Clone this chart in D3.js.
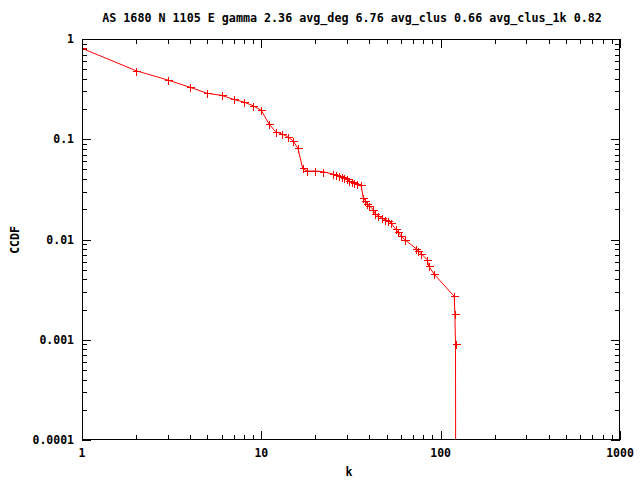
<!DOCTYPE html>
<html>
<head>
<meta charset="utf-8">
<script src="https://cdn.jsdelivr.net/npm/d3@7"></script>
<style>
  html, body { margin: 0; padding: 0; background: #fff; }
  svg text { font-family: "DejaVu Sans Mono", "Liberation Mono", monospace; font-weight: bold; font-size: 11.5px; fill: #000; }
  svg text.title { font-size: 11.7px; }
</style>
</head>
<body>
<svg id="chart" width="640" height="480"></svg>
<script>
const titleText = "AS 1680 N 1105 E gamma 2.36 avg_deg 6.76 avg_clus 0.66 avg_clus_1k 0.82";
const xLabel = "k";
const yLabel = "CCDF";

const degrees = [1,2,3,4,5,6,7,8,9,10,11,12,13,14,15,16,17,18,20,22,
  25,26,27,28,29,30,31,32,33,34,36,37,38,39,40,42,43,45,47,49,51,53,56,58,60,63,
  73,75,78,84,86,92,119,120,121,122];
const ccdf = [0.807,0.483,0.39,0.33,0.287,0.274,0.25,0.235,0.216,0.194,0.143,0.119,0.113,0.106,0.0968,0.0813,0.0513,0.0482,0.0482,0.0475,
  0.045,0.0442,0.0433,0.0421,0.041,0.04,0.0383,0.0371,0.0362,0.0354,0.0346,0.0262,0.0244,0.0226,0.0217,0.0199,0.0181,0.0172,0.0163,0.0158,0.0154,0.0145,0.0127,0.0118,0.0109,0.0100,
  0.0081,0.0077,0.0072,0.0063,0.0054,0.0045,0.00271,0.0018,0.000905,0];

const xTicks = [1,10,100,1000];
const xTickLabels = ["1","10","100","1000"];
const yTicks = [0.0001,0.001,0.01,0.1,1];
const yTickLabels = ["0.0001","0.001","0.01","0.1","1"];

const W = 640, H = 480;
const m = {left: 82, right: 20, top: 39, bottom: 40};
const svg = d3.select("#chart");

const x = d3.scaleLog().domain([1,1000]).range([m.left, W - m.right]);
const y = d3.scaleLog().domain([0.0001,1]).range([H - m.bottom, m.top]);

const x0 = m.left, x1 = W - m.right, y0 = H - m.bottom, y1 = m.top;

function minorVals(domain) {
  const out = [];
  for (let d = domain[0]; d < domain[1]; d *= 10) {
    for (let i = 2; i <= 9; i++) out.push(d * i);
  }
  return out;
}
const g = svg.append("g").attr("stroke", "#000").attr("stroke-width", 1).attr("shape-rendering", "crispEdges");
const major = 9, minor = 5;
xTicks.forEach(v => {
  const px = Math.round(x(v)) + 0.5;
  g.append("line").attr("x1", px).attr("x2", px).attr("y1", y0).attr("y2", y0 - major);
  g.append("line").attr("x1", px).attr("x2", px).attr("y1", y1).attr("y2", y1 + major);
});
minorVals([1,1000]).forEach(v => {
  const px = Math.round(x(v)) + 0.5;
  g.append("line").attr("x1", px).attr("x2", px).attr("y1", y0).attr("y2", y0 - minor);
  g.append("line").attr("x1", px).attr("x2", px).attr("y1", y1).attr("y2", y1 + minor);
});
yTicks.forEach(v => {
  const py = Math.round(y(v)) + 0.5;
  g.append("line").attr("x1", x0).attr("x2", x0 + major).attr("y1", py).attr("y2", py);
  g.append("line").attr("x1", x1).attr("x2", x1 - major).attr("y1", py).attr("y2", py);
});
minorVals([0.0001,1]).forEach(v => {
  const py = Math.round(y(v)) + 0.5;
  g.append("line").attr("x1", x0).attr("x2", x0 + minor).attr("y1", py).attr("y2", py);
  g.append("line").attr("x1", x1).attr("x2", x1 - minor).attr("y1", py).attr("y2", py);
});

xTicks.forEach((v, i) => {
  svg.append("text").attr("x", x(v)).attr("y", 457).attr("text-anchor", "middle").text(xTickLabels[i]);
});
yTicks.forEach((v, i) => {
  svg.append("text").attr("x", 74).attr("y", y(v) + 4).attr("text-anchor", "end").text(yTickLabels[i]);
});

svg.append("text").attr("x", 349).attr("y", 476).attr("text-anchor", "middle").text(xLabel);
svg.append("text").attr("transform", "translate(19,240) rotate(-90)").attr("text-anchor", "middle").text(yLabel);
svg.append("text").attr("class", "title").attr("x", 352).attr("y", 22).attr("text-anchor", "middle").text(titleText);

svg.append("clipPath").attr("id", "clip").append("rect")
  .attr("x", x0).attr("y", y1).attr("width", x1 - x0).attr("height", y0 - y1);
const data = degrees.map((k, i) => ({k, v: ccdf[i]}));
const yv = v => v > 0 ? y(v) : y(1e-8);
const line = d3.line().x(d => x(d.k)).y(d => yv(d.v));
const plot = svg.append("g").attr("clip-path", "url(#clip)");
plot.append("path").datum(data).attr("d", line).attr("fill", "none").attr("stroke", "#ff0000").attr("stroke-width", 1);
const s = 4;
plot.selectAll("path.pt").data(data.filter(d => d.v > 0)).enter().append("path")
  .attr("class", "pt")
  .attr("d", d => {
    const px = Math.round(x(d.k)) + 0.5, py = Math.round(y(d.v)) + 0.5;
    return `M${px - s},${py}H${px + s}M${px},${py - s}V${py + s}`;
  })
  .attr("stroke", "#ff0000").attr("stroke-width", 1).attr("fill", "none").attr("shape-rendering", "crispEdges");

svg.append("rect").attr("x", x0 + 0.5).attr("y", y1 + 0.5).attr("width", x1 - x0 - 1).attr("height", y0 - y1 - 1)
  .attr("fill", "none").attr("stroke", "#000").attr("stroke-width", 1).attr("shape-rendering", "crispEdges");
</script>
</body>
</html>
